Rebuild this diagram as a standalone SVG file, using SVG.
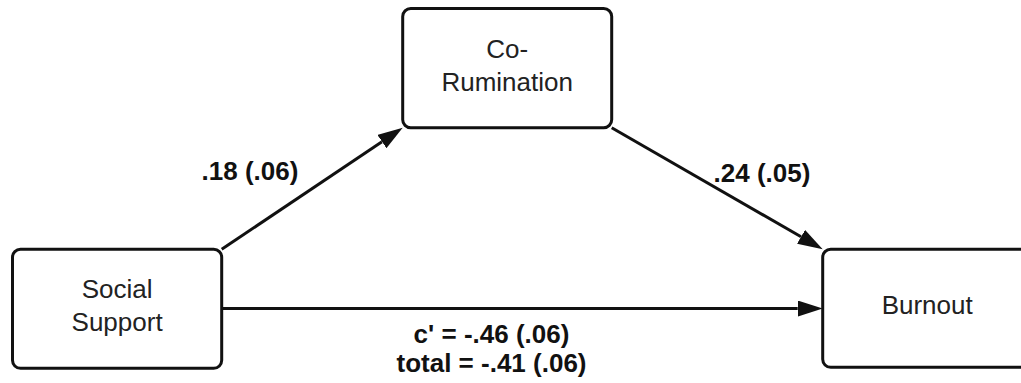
<svg xmlns="http://www.w3.org/2000/svg" width="1021" height="383" viewBox="0 0 1021 383">
  <style>
    .box { fill: #ffffff; stroke: #111111; stroke-width: 3; }
    .lbl { font-family: "Liberation Sans", Arial, sans-serif; font-size: 26px; fill: #222222; text-anchor: middle; }
    .coef { font-family: "Liberation Sans", Arial, sans-serif; font-size: 26px; font-weight: bold; fill: #111111; text-anchor: middle; }
    .edge { fill: none; stroke: #111111; stroke-width: 3; }
  </style>
  <defs>
    <marker id="arrow" markerUnits="userSpaceOnUse" markerWidth="26" markerHeight="18" refX="0" refY="8" orient="auto">
      <path d="M0,0 L25,8 L0,16 z" fill="#111111"/>
    </marker>
  </defs>
  <rect width="1021" height="383" fill="#ffffff"/>
  <g id="connectors">
    <path class="edge" d="M221.7,249.3 L381.95,141.64" marker-end="url(#arrow)"/>
    <path class="edge" d="M611.7,127.7 L801.04,236.81" marker-end="url(#arrow)"/>
    <path class="edge" d="M221.7,308.5 L797.7,308.5" marker-end="url(#arrow)"/>
    <text class="coef" x="250" y="180">.18 (.06)</text>
    <text class="coef" x="762" y="181.5">.24 (.05)</text>
    <text class="coef" x="491.5" y="343">c' = -.46 (.06)</text>
    <text class="coef" x="491.5" y="371.5">total = -.41 (.06)</text>
  </g>
  <g id="co-rumination">
    <rect class="box" x="402.7" y="8.5" width="209" height="119.2" rx="8" ry="8"/>
    <text class="lbl" x="507.2" y="58.3">Co-</text>
    <text class="lbl" x="507.2" y="90.7">Rumination</text>
  </g>
  <g id="social-support">
    <rect class="box" x="12.5" y="249.3" width="209.2" height="119" rx="8" ry="8"/>
    <text class="lbl" x="117.1" y="298.3">Social</text>
    <text class="lbl" x="117.1" y="330.7">Support</text>
  </g>
  <g id="burnout">
    <rect class="box" x="822.7" y="249.3" width="209" height="118" rx="8" ry="8"/>
    <text class="lbl" x="927.2" y="314">Burnout</text>
  </g>
</svg>
